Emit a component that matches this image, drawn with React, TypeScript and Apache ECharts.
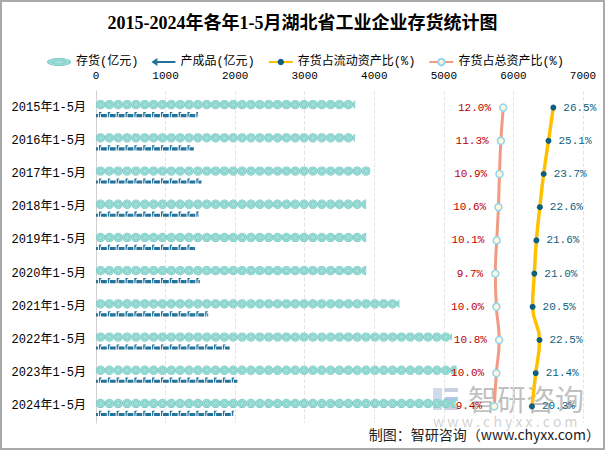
import React, { useEffect, useRef } from 'react';
import * as echarts from 'echarts';

const categories = [
  '2015年1-5月', '2016年1-5月', '2017年1-5月', '2018年1-5月', '2019年1-5月',
  '2020年1-5月', '2021年1-5月', '2022年1-5月', '2023年1-5月', '2024年1-5月',
];
const inventory = [3726, 3722, 3945, 3884, 3884, 3884, 4362, 5118, 5184, 5170];
const finished = [1468, 1406, 1516, 1478, 1425, 1492, 1612, 1922, 2033, 1985];
const currentRatio = [26.5, 25.1, 23.7, 22.6, 21.6, 21.0, 20.5, 22.5, 21.4, 20.3];
const totalRatio = [12.0, 11.3, 10.9, 10.6, 10.1, 9.7, 10.0, 10.8, 10.0, 9.4];

const MONO = '"Liberation Mono", "Noto Sans CJK SC", monospace';
const CJK = '"Noto Sans CJK SC", sans-serif';

export default function App() {
  const ref = useRef<HTMLDivElement>(null);
  useEffect(() => {
    document.body.style.margin = '0';
    const chart = echarts.init(ref.current!, null, { renderer: 'svg' });
    const circleColor = {
      type: 'radial', x: 0.5, y: 0.5, r: 0.5,
      colorStops: [
        { offset: 0, color: '#b2e4e0' },
        { offset: 0.55, color: '#86d2cc' },
        { offset: 0.8, color: '#a3dfda' },
        { offset: 1, color: '#5cbdb5' },
      ],
    };
    const pct = (p: any) => Number(p.value).toFixed(1) + '%';
    chart.setOption({
      animation: false,
      backgroundColor: '#fff',
      title: {
        text: '2015-2024年各年1-5月湖北省工业企业存货统计图',
        left: 'center',
        top: 9,
        textStyle: { fontSize: 18, fontWeight: 'bold', color: '#000', fontFamily: '"Liberation Serif", "Noto Sans CJK SC", serif' },
      },
      legend: {
        left: 42,
        top: 51,
        itemWidth: 24,
        itemHeight: 8,
        itemGap: 13,
        symbolKeepAspect: false,
        textStyle: { fontSize: 12, color: '#000', fontFamily: MONO },
        data: [
          { name: '存货(亿元)', icon: 'path://M0,4 C0,1.8 5.4,0 12,0 C18.6,0 24,1.8 24,4 C24,6.2 18.6,8 12,8 C5.4,8 0,6.2 0,4 Z' },
          { name: '产成品(亿元)', icon: 'path://M0,4 L6,0 L6,3 L24,3 L24,5 L6,5 L6,8 Z' },
          { name: '存货占流动资产比(%)' },
          { name: '存货占总资产比(%)' },
        ],
      },
      grid: { left: 96, right: 22, top: 91, bottom: 27, containLabel: false },
      xAxis: [
        {
          type: 'value',
          position: 'top',
          min: 0,
          max: 7000,
          interval: 1000,
          axisLine: { show: false },
          axisTick: { show: false },
          axisLabel: { margin: 10, fontSize: 11, color: '#000', fontFamily: MONO, formatter: (v: number) => String(v) },
          splitLine: { show: true, lineStyle: { type: 'dashed', color: '#e6e6e6' } },
        },
        {
          type: 'value',
          show: false,
          min: -106,
          max: 35.1,
          position: 'top',
        },
      ],
      yAxis: {
        type: 'category',
        inverse: true,
        data: categories,
        axisTick: { show: false },
        axisLine: { show: true, lineStyle: { color: '#d0d0d0' } },
        axisLabel: { margin: 10, fontSize: 12, color: '#000', fontFamily: MONO },
      },
      series: [
        {
          name: '存货(亿元)',
          type: 'pictorialBar',
          xAxisIndex: 0,
          data: inventory,
          symbol: 'circle',
          symbolSize: [9, 9],
          symbolRepeat: true,
          symbolClip: true,
          symbolMargin: 0,
          symbolOffset: [0, -3],
          barWidth: 16,
          itemStyle: { color: circleColor },
          z: 2,
        },
        {
          name: '产成品(亿元)',
          type: 'pictorialBar',
          xAxisIndex: 0,
          data: finished,
          symbol: 'path://M0,2 L2,2 L2,5 L0,5 Z M3,0 L6,0 L5,1 L4.5,1 L4,5 L3,5 Z M5,2 L9,2 L9,5 L5,5 Z',
          symbolSize: [9, 5],
          symbolRepeat: true,
          symbolClip: true,
          symbolMargin: 0,
          symbolOffset: [0, 7],
          barWidth: 16,
          itemStyle: { color: '#22729c' },
          z: 2,
        },
        {
          name: '存货占流动资产比(%)',
          type: 'line',
          xAxisIndex: 1,
          data: currentRatio,
          smooth: true,
          symbol: 'circle',
          symbolSize: 6,
          lineStyle: { color: '#ffc000', width: 3.5 },
          itemStyle: { color: '#0e5f80' },
          label: { show: true, position: 'right', distance: 7, color: '#0e5f80', fontSize: 11, fontFamily: MONO, formatter: pct },
          z: 4,
        },
        {
          name: '存货占总资产比(%)',
          type: 'line',
          xAxisIndex: 1,
          data: totalRatio,
          smooth: true,
          symbol: 'circle',
          symbolSize: 7,
          lineStyle: { color: '#f19a84', width: 3 },
          itemStyle: { color: '#fdf8dc', borderColor: '#8fd5ee', borderWidth: 1.5 },
          label: { show: true, position: 'left', distance: 8, color: '#c00000', fontSize: 11, fontFamily: MONO, formatter: pct },
          z: 4,
        },
      ],
      graphic: [
        {
          type: 'rect',
          silent: true,
          shape: { x: 1, y: 1, width: 603, height: 448 },
          style: { fill: 'none', stroke: '#a9a9a9', lineWidth: 2 },
          z: 100,
        },
        {
          type: 'group',
          silent: true,
          z: 50,
          children: [
            { type: 'rect', shape: { x: 433, y: 388, width: 9, height: 22 }, style: { fill: 'rgba(120,150,200,0.35)' } },
            { type: 'rect', shape: { x: 444, y: 388, width: 14, height: 4 }, style: { fill: 'rgba(120,140,180,0.4)' } },
            { type: 'rect', shape: { x: 444, y: 397, width: 14, height: 4 }, style: { fill: 'rgba(90,130,200,0.45)' } },
            { type: 'rect', shape: { x: 444, y: 406, width: 14, height: 4 }, style: { fill: 'rgba(120,140,180,0.4)' } },
            {
              type: 'text', x: 468, y: 383,
              style: { text: '智研咨询', fontSize: 29, fill: 'rgba(130,130,130,0.5)', fontFamily: CJK },
            },
            {
              type: 'text', x: 433, y: 414,
              style: { text: 'w w w . c h y x x . c o m', fontSize: 14, fill: 'rgba(150,150,150,0.45)', fontFamily: CJK },
            },
          ],
        },
        {
          type: 'text',
          right: 5,
          top: 427,
          silent: true,
          z: 60,
          style: { text: '制图：智研咨询（www.chyxx.com）', fontSize: 14, fill: '#222', fontFamily: CJK },
        },
      ],
    });
    return () => chart.dispose();
  }, []);
  return <div ref={ref} style={{ width: 605, height: 450 }} />;
}
